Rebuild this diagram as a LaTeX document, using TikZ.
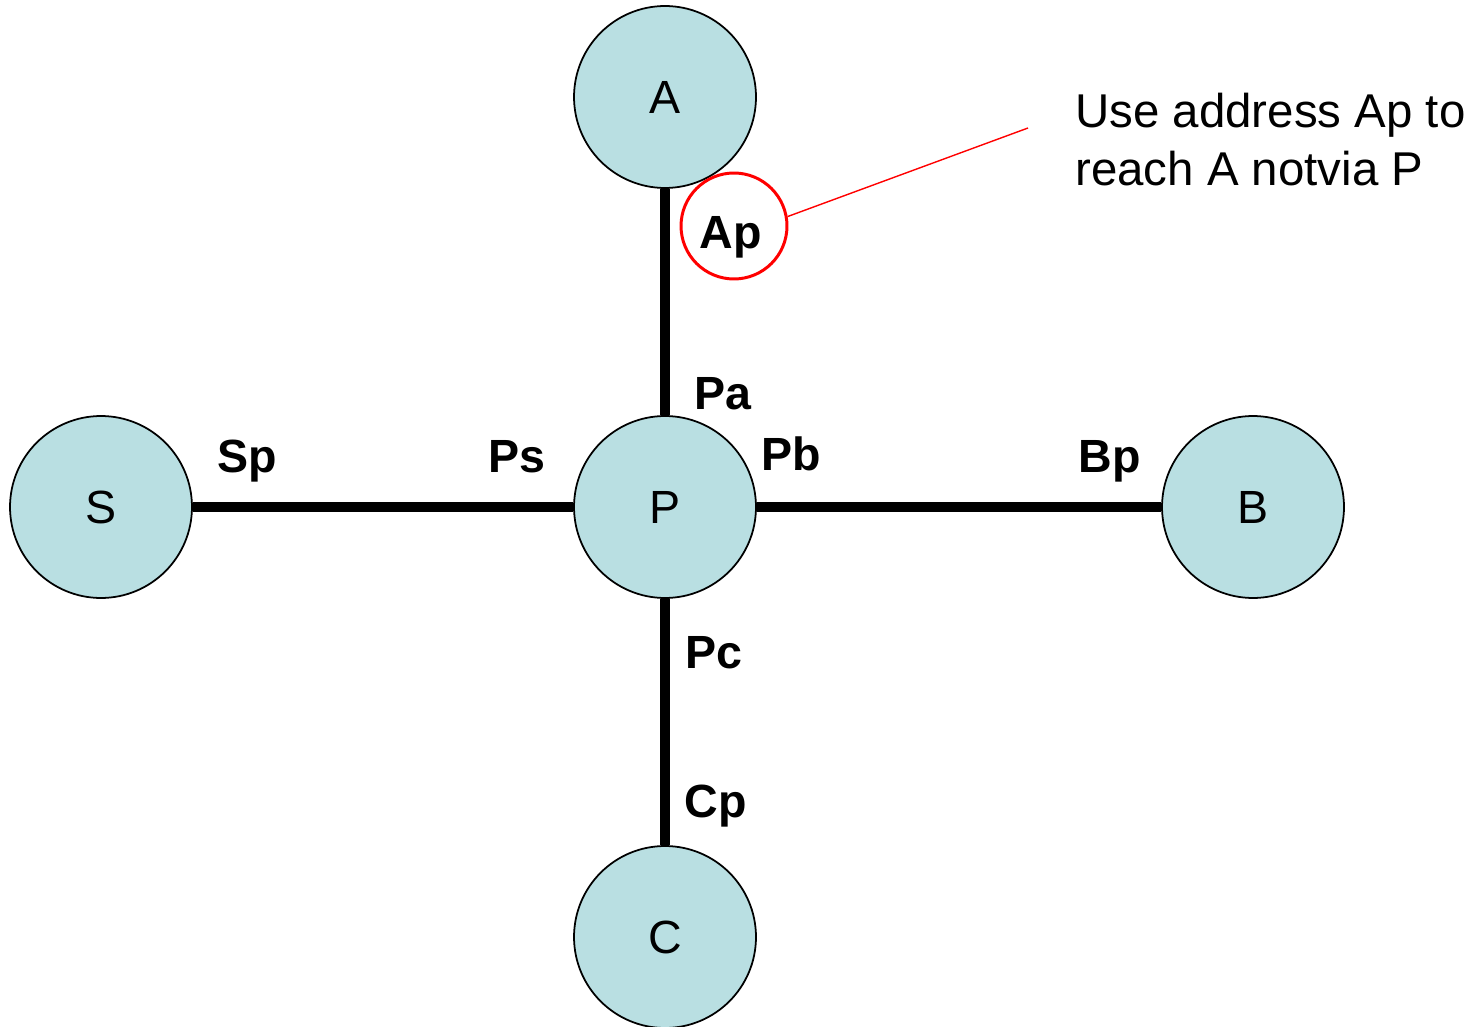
\documentclass[tikz,border=0pt]{standalone}
\usepackage{fontspec}
\setmainfont{Liberation Sans}
\usetikzlibrary{backgrounds}
\definecolor{routerfill}{RGB}{185,223,226}
\tikzset{
  router/.style={circle,draw=black,line width=1pt,fill=routerfill,
    minimum size=3.64cm,inner sep=0pt,font=\fontsize{26.5}{32}\selectfont},
  link/.style={line width=6pt},
  port/.style={anchor=base,inner sep=0pt,font=\fontsize{26.5}{32}\selectfont\bfseries},
  ring/.style={circle,draw=red,line width=1.7pt,minimum size=2.12cm,inner sep=0pt},
}
\begin{document}
\begin{tikzpicture}[x=0.02cm,y=-0.02cm]
  \useasboundingbox (0,0) rectangle (1481,1027);
  % the routers
  \node[router] (A) at (665,97) {A};
  \node[router] (P) at (665,507) {P};
  \node[router] (S) at (101,507) {S};
  \node[router] (B) at (1253,507) {B};
  \node[router] (C) at (665,937) {C};
  % links behind the routers
  \begin{scope}[on background layer]
    \draw[link] (A) -- (P);% A to P
    \draw[link] (S) -- (P);% S to P
    \draw[link] (P) -- (B);% P to B
    \draw[link] (P) -- (C);% P to C
  \end{scope}
  % port addresses
  \node[port] (ap) at (731,249) {Ap};
  \node[port] (pa) at (723,409) {Pa};
  \node[port] (sp) at (247,472) {Sp};
  \node[port] (ps) at (517,472) {Ps};
  \node[port] (pb) at (791,470) {Pb};
  \node[port] (bp) at (1110,472) {Bp};
  \node[port] (pc) at (714,668) {Pc};
  \node[port] (cp) at (716,817) {Cp};
  % the highlighted address and its note
  \node[ring] (apring) at (734,226) {};
  \coordinate (notetip) at (1028,128);
  \draw[red,line width=0.8pt] (apring.10) -- (notetip);
  \node[anchor=north west,inner sep=0pt,align=left,
    font=\fontsize{27}{33}\selectfont] (note) at (1075,93)
    {Use address Ap to\\reach A notvia P};
\end{tikzpicture}
\end{document}
